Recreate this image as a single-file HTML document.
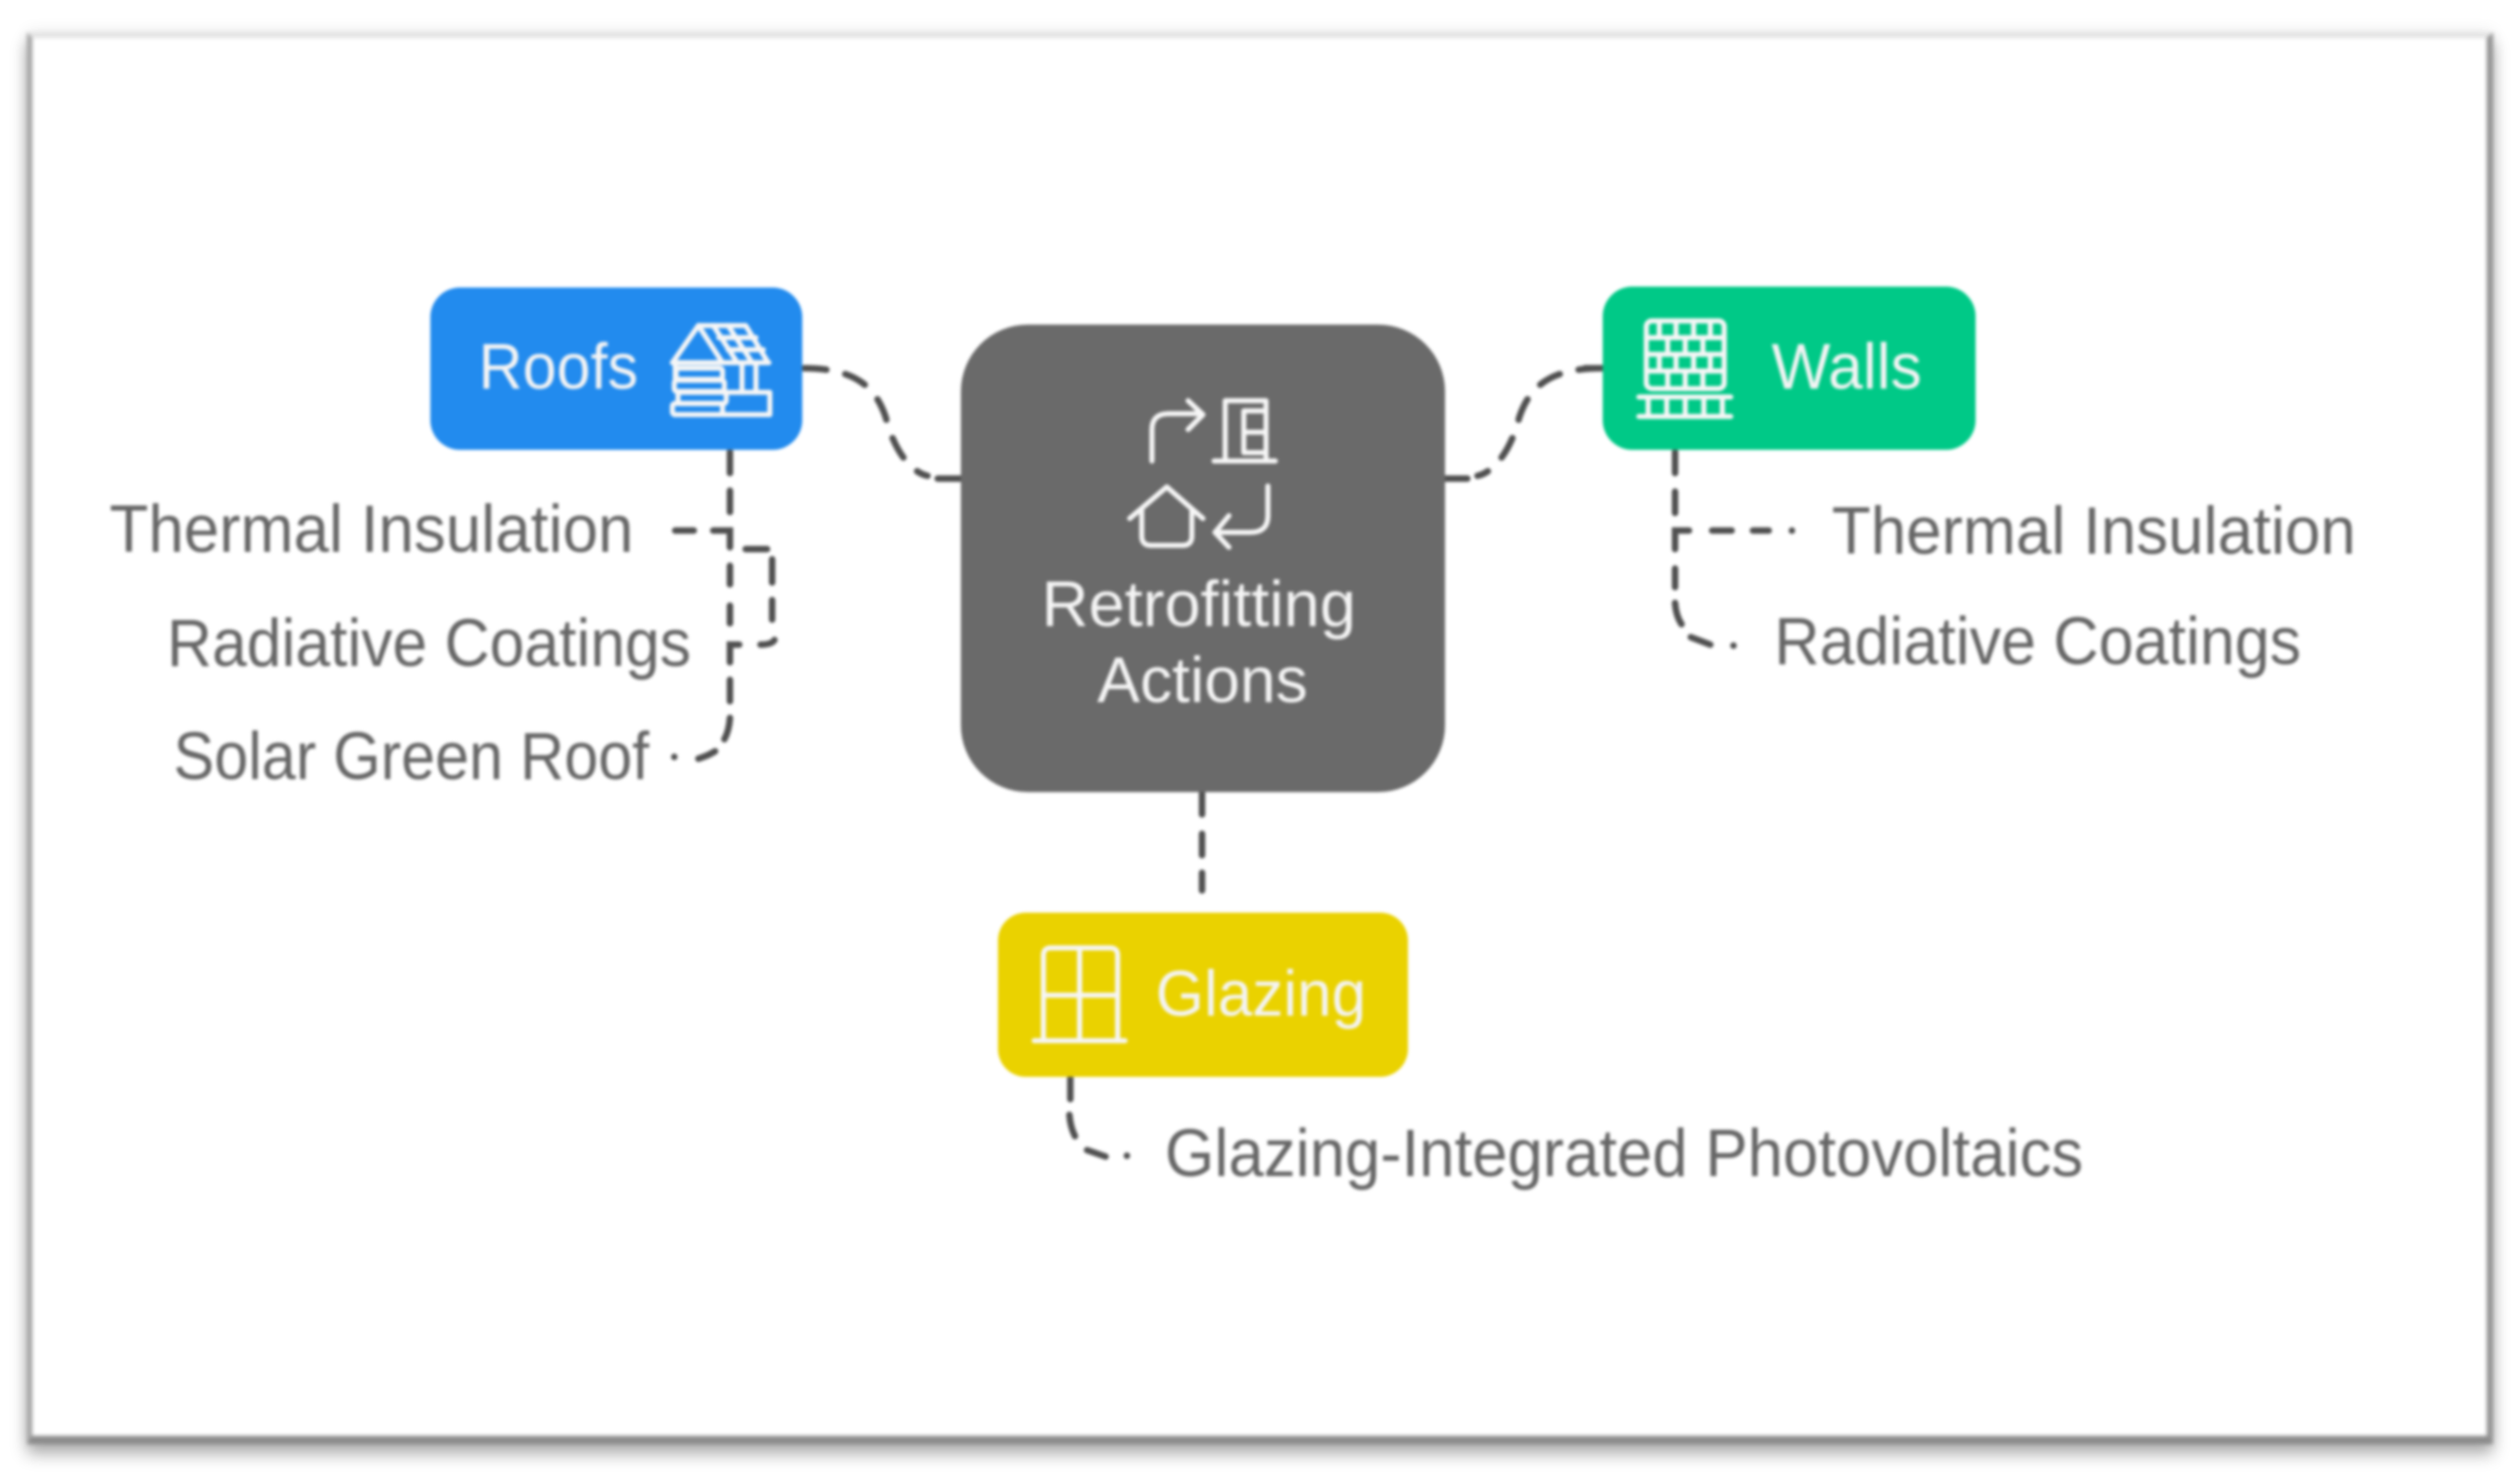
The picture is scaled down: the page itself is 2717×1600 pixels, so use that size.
<!DOCTYPE html>
<html lang="en">
<head>
<meta charset="utf-8">
<title>Retrofitting Actions</title>
<style>
html,body{margin:0;padding:0;background:#fff;width:2717px;height:1600px;overflow:hidden}
#frame{position:absolute;left:29px;top:35px;width:2659px;height:1522px;box-sizing:border-box;background:#fff;
border-left:6px solid #a8a8a8;border-right:7px solid #969696;border-bottom:9px solid #8c8c8c;border-top:6px solid #e4e4e4;
box-shadow:0 11px 16px rgba(0,0,0,.30),0 0 16px rgba(0,0,0,.10);filter:blur(2px)}
svg{position:absolute;left:0;top:0;filter:blur(1.7px)}
text{font-family:"Liberation Sans",sans-serif}
.lbl{fill:#666;font-size:72px}
.wt{fill:#f4f4f4;font-size:70px}
.con{fill:none;stroke:#505050;stroke-width:7;stroke-linecap:round}
.ic{fill:none;stroke:#f6f6f6;stroke-width:5.5;stroke-linecap:round;stroke-linejoin:round}
</style>
</head>
<body>
<div id="frame"></div>
<svg width="2717" height="1600" viewBox="0 0 2717 1600" xmlns="http://www.w3.org/2000/svg">
  <!-- connectors -->
  <path class="con" stroke-dasharray="24 21" d="M867 397C925 397 945 420 955 450C965 490 985 510 1000 513"/>
  <path class="con" d="M1011 516H1036"/>
  <path class="con" stroke-dasharray="24 21" d="M1726 397C1668 397 1648 420 1638 450C1628 490 1608 510 1593 513"/>
  <path class="con" d="M1558 516H1582"/>
  <path class="con" d="M1296 855V878M1296 899V922M1296 941V960"/>
  <!-- roofs branch -->
  <path class="con" d="M787 487V510M787 529V552M769 572H787V590M787 610V630M787 653V672M797 695H787V714M787 733V756M787 774Q786 788 781 797M771 810Q763 815 753 818M727 816V816.1"/>
  <path class="con" d="M728 572H748M804 592H827M832.5 603V628M832.5 647V668M835 690Q832 695 820 695"/>
  <!-- walls branch -->
  <path class="con" d="M1806 487V510M1806 530V553M1821 572H1806V592M1846 572H1867M1890 572H1907M1932 572V572.1M1806 613V633M1806 650Q1807 664 1813 673M1823 687L1844 695M1869 696V696.1"/>
  <path class="con" d="M1709 397H1728"/>
  <!-- glazing branch -->
  <path class="con" d="M1154 1162V1185M1153 1202Q1154 1215 1159 1225M1172 1240L1192 1247M1215 1246V1246.1"/>

  <!-- nodes -->
  <rect x="464" y="310" width="401" height="175" rx="32" fill="#228bee"/>
  <rect x="1036" y="350" width="522" height="504" rx="72" fill="#6a6a6a"/>
  <rect x="1728" y="309" width="402" height="176" rx="32" fill="#00c987"/>
  <rect x="1076" y="984" width="442" height="177" rx="30" fill="#ead200"/>

  <!-- node labels -->
  <text class="wt" x="516" y="419" textLength="172" lengthAdjust="spacingAndGlyphs">Roofs</text>
  <text class="wt" x="1910" y="419" textLength="162" lengthAdjust="spacingAndGlyphs">Walls</text>
  <text class="wt" x="1246" y="1095" textLength="227" lengthAdjust="spacingAndGlyphs">Glazing</text>
  <text class="wt" x="1123" y="675" textLength="339" lengthAdjust="spacingAndGlyphs">Retrofitting</text>
  <text class="wt" x="1183" y="757" textLength="227" lengthAdjust="spacingAndGlyphs">Actions</text>

  <!-- outer labels -->
  <text class="lbl" x="118" y="595" textLength="565" lengthAdjust="spacingAndGlyphs">Thermal Insulation</text>
  <text class="lbl" x="180" y="718" textLength="565" lengthAdjust="spacingAndGlyphs">Radiative Coatings</text>
  <text class="lbl" x="187" y="840" textLength="513" lengthAdjust="spacingAndGlyphs">Solar Green Roof</text>
  <text class="lbl" x="1975" y="597" textLength="565" lengthAdjust="spacingAndGlyphs">Thermal Insulation</text>
  <text class="lbl" x="1913" y="716" textLength="568" lengthAdjust="spacingAndGlyphs">Radiative Coatings</text>
  <text class="lbl" x="1256" y="1268" textLength="990" lengthAdjust="spacingAndGlyphs">Glazing-Integrated Photovoltaics</text>

  <!-- center icon -->
  <g class="ic" stroke-width="6">
    <path d="M1242 497V463Q1242 446 1260 446H1295M1281 432L1297 447L1281 463"/>
    <path d="M1309 497H1375M1321 497V432H1365V497M1341 443V488M1341 443H1364M1341 466H1364M1341 488H1364" />
    <path d="M1218 559L1258 525L1297 559M1231 550V578Q1231 588 1241 588H1275Q1285 588 1285 578V550"/>
    <path d="M1367 524V556Q1367 574 1348 574H1312M1325 556L1310 574L1325 590"/>
  </g>

  <!-- roofs icon -->
  <g class="ic">
    <path d="M725 391L753 351H804L827 389"/>
    <path d="M725 391H829M753 351L779 391M769 351L795 391M785 351L811 391"/>
    <path d="M775 364H815M785 377H823"/>
    <path d="M728 391V408M800 391V423M815 391V423"/>
    <rect x="729" y="397" width="50" height="12" rx="3"/>
    <rect x="727" y="410" width="54" height="12" rx="3"/>
    <rect x="731" y="423" width="52" height="12" rx="3"/>
    <rect x="725" y="435" width="54" height="12" rx="3"/>
    <path d="M779 423H830V447H779"/>
  </g>

  <!-- walls icon -->
  <g class="ic">
    <rect x="1775" y="346" width="84" height="73" rx="6"/>
    <path d="M1775 364H1859M1775 382H1859M1775 400H1859"/>
    <path d="M1789 346V364M1807 346V364M1826 346V364M1844 346V364"/>
    <path d="M1798 364V382M1817 364V382M1836 364V382"/>
    <path d="M1789 382V400M1807 382V400M1826 382V400M1844 382V400"/>
    <path d="M1798 400V419M1817 400V419M1836 400V419"/>
    <path d="M1767 428H1866M1767 449H1866M1777 428V449M1797 428V449M1817 428V449M1837 428V449M1857 428V449"/>
  </g>

  <!-- glazing icon -->
  <g class="ic" stroke-width="6">
    <path d="M1125 1122V1030Q1125 1022 1133 1022H1197Q1205 1022 1205 1030V1122"/>
    <path d="M1115 1122H1213M1164 1022V1122M1125 1073H1205"/>
  </g>
</svg>
</body>
</html>
